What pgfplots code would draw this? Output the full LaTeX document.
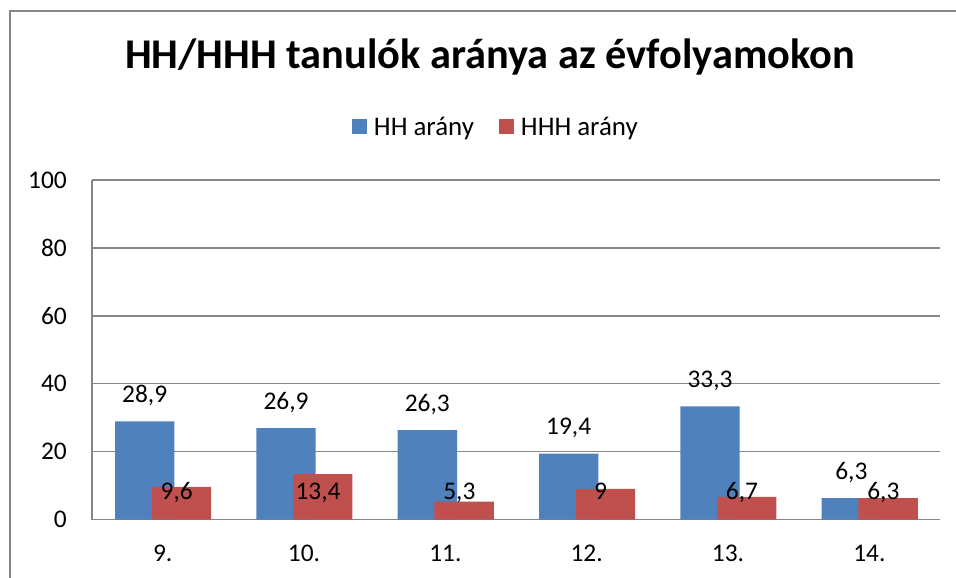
\documentclass[border=0pt]{standalone}
\usepackage{fontspec}
\setmainfont{Carlito}
\usepackage{pgfplots}
\pgfplotsset{compat=1.18}
\definecolor{hhblue}{HTML}{4F81BD}
\definecolor{hhhred}{HTML}{C0504D}
\definecolor{gridgray}{HTML}{868686}
\newcommand{\lblfont}{\fontsize{25.5}{30}\selectfont}

\begin{document}
\begin{tikzpicture}
\useasboundingbox (0,0) rectangle (956bp,578bp);
\draw[gridgray, line width=1.5bp] (10bp,-5bp) -- (10bp,567bp) -- (970bp,567bp);
\node[anchor=base, font=\fontsize{42.5}{50}\selectfont\bfseries]
  at (490bp,509bp) {HH/HHH tanulók aránya az évfolyamokon};

\begin{axis}[
  scale only axis, width=848bp, height=339.5bp,
  at={(92bp,58.5bp)}, anchor=south west,
  xmin=-0.5, xmax=5.5, ymin=0, ymax=100,
  xtick={0,...,5}, xticklabels={9.,10.,11.,12.,13.,14.},
  ytick={0,20,...,100},
  major tick length=0pt,
  axis x line*=bottom, axis y line*=left,
  axis line style={gridgray, line width=1.5bp, -},
  ymajorgrids, grid style={gridgray, line width=1.5bp},
  ticklabel style={font=\lblfont, inner sep=0pt},
  yticklabel style={anchor=east, xshift=-25bp},
  xticklabel style={anchor=north, yshift=-25.5bp, text depth=0pt},
  /pgf/number format/assume math mode=true,
  /pgf/number format/use comma,
  /pgf/number format/1000 sep={},
  legend columns=2,
  legend style={draw=none, fill=none, inner sep=0pt, outer sep=0pt,
    at={(0.3066,1.159)}, anchor=west, font=\fontsize{27}{32}\selectfont,
    nodes={inner sep=0pt, text depth=0pt},
    /tikz/every even column/.style={column sep=25bp}},
  legend image code/.code={
    \fill[#1, draw=none] (0bp,-7.5bp) rectangle (15bp,7.5bp);
    \path (22bp,0bp);},
  every node near coord/.append style={font=\lblfont, inner sep=0pt,
    text depth=0pt, anchor=south},
]
\addplot[ybar, bar width=0.42, bar shift=-0.127, fill=hhblue, draw=none,
  nodes near coords,
  every node near coord/.append style={xshift=-18bp, yshift=18.5bp}]
  coordinates {(0,28.9) (1,26.9) (2,26.3) (3,19.4) (4,33.3) (5,6.3)};
\addlegendentry{HH arány}
\addplot[ybar, bar width=0.42, bar shift=0.133, fill=hhhred, draw=none,
  nodes near coords,
  visualization depends on={y \as \rawy},
  every node near coord/.append style={shift={(axis direction cs:0,-\rawy)}, xshift=14bp, yshift=19.5bp}]
  coordinates {(0,9.6) (1,13.4) (2,5.3) (3,9) (4,6.7) (5,6.3)};
\addlegendentry{HHH arány}
\end{axis}
\end{tikzpicture}
\end{document}
